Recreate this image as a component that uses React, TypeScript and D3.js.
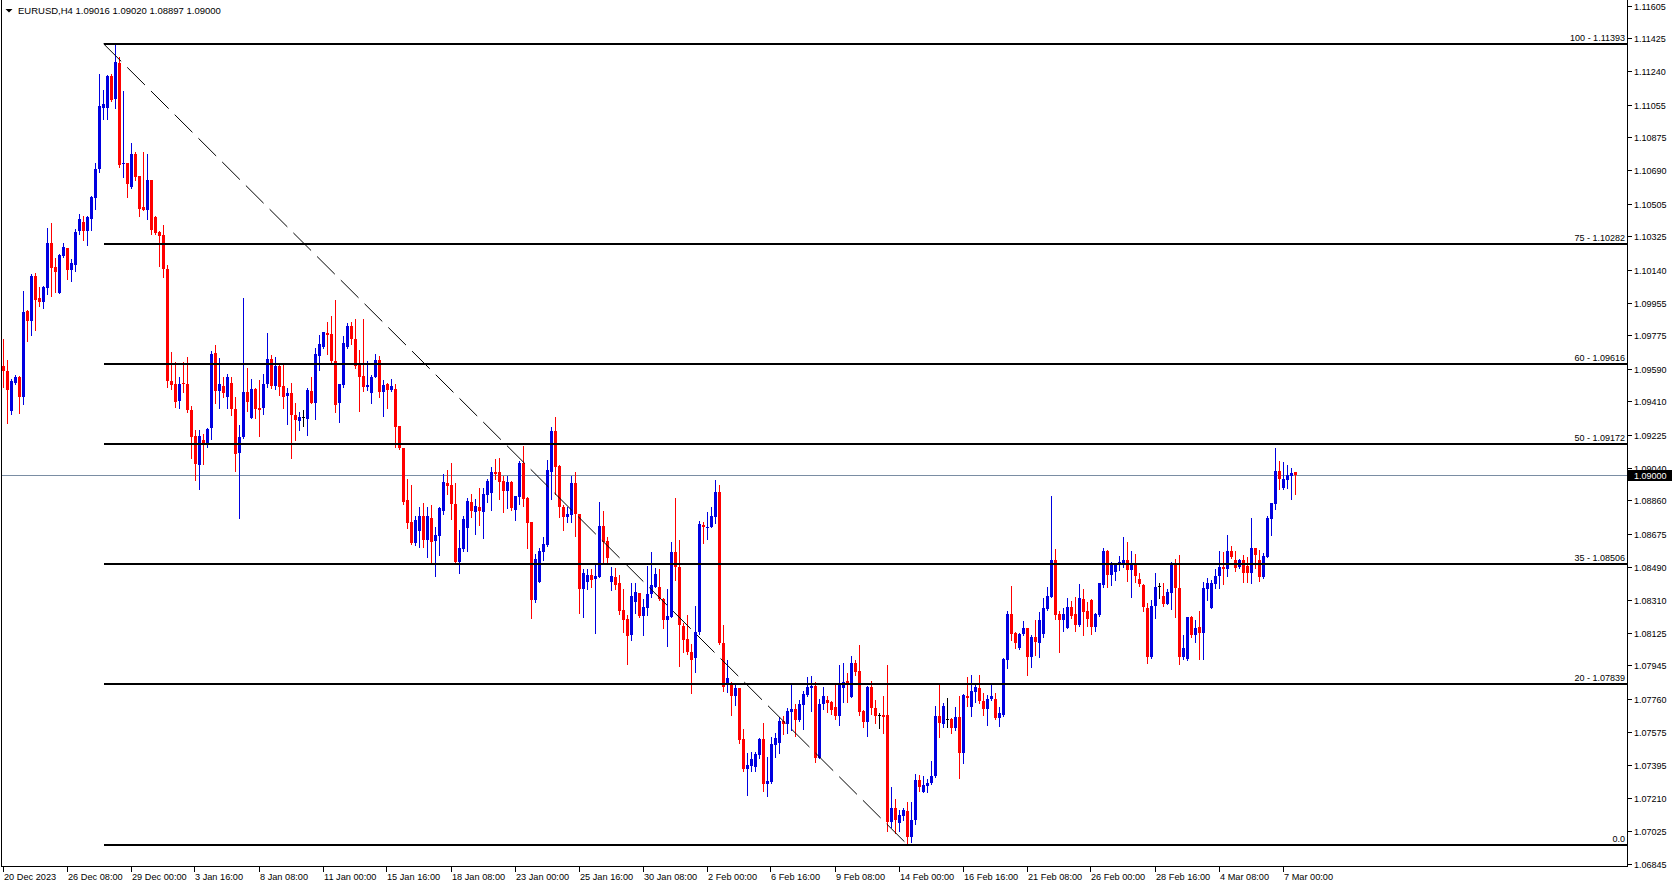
import React from 'react';
import * as d3 from 'd3';

// ---- Data (EURUSD H4, bars) ----
const opens = [
1.09604,1.09576,1.09356,1.09511,1.09544,1.09433,1.09911,1.09855,1.10103,1.09983,
1.09961,1.10040,1.10288,1.10155,1.10011,1.10216,1.10260,1.10140,1.10164,1.10355,
1.10405,1.10355,1.10423,1.10538,1.10697,1.11039,1.11037,1.11215,1.11086,1.11287,
1.10725,1.10729,1.10599,1.10784,1.10658,1.10488,1.10473,1.10636,1.10433,1.10349,
1.10331,1.10146,1.09522,1.09507,1.09411,1.09511,1.09507,1.09360,1.09215,1.09058,
1.09197,1.09165,1.09262,1.09679,1.09468,1.09497,1.09434,1.09512,1.09368,1.09124,
1.09209,1.09462,1.09318,1.09477,1.09374,1.09372,1.09505,1.09644,1.09496,1.09607,
1.09494,1.09438,1.09457,1.09336,1.09301,1.09320,1.09309,1.09466,1.09401,1.09660,
1.09712,1.09790,1.09782,1.09632,1.09398,1.09499,1.09712,1.09829,1.09753,1.09623,
1.09549,1.09490,1.09453,1.09545,1.09638,1.09459,1.09505,1.09472,1.09477,1.09272,
1.09148,1.08861,1.08740,1.08625,1.08690,1.08773,1.08640,1.08762,1.08636,1.08662,
1.08801,1.08955,1.08945,1.08840,1.08516,1.08590,1.08709,1.08851,1.08797,1.08823,
1.08797,1.08890,1.08903,1.09017,1.09017,1.08967,1.08914,1.08964,1.08807,1.08881,
1.09066,1.08875,1.08740,1.08307,1.08409,1.08575,1.08612,1.09019,1.09245,1.09053,
1.08825,1.08770,1.08779,1.08955,1.08784,1.08370,1.08409,1.08444,1.08422,1.08436,
1.08718,1.08634,1.08409,1.08437,1.08400,1.08252,1.08200,1.08113,1.08298,1.08344,
1.08219,1.08265,1.08341,1.08381,1.08378,1.08313,1.08197,1.08215,1.08574,1.08492,
1.08165,1.08091,1.08021,1.07988,1.08132,1.08723,1.08705,1.08714,1.08770,1.08907,
1.08067,1.07841,1.07848,1.07774,1.07821,1.07534,1.07370,1.07386,1.07382,1.07447,
1.07538,1.07286,1.07296,1.07503,1.07512,1.07636,1.07619,1.07688,1.07702,1.07641,
1.07724,1.07780,1.07819,1.07832,1.07432,1.07730,1.07752,1.07743,1.07712,1.07664,
1.07817,1.07858,1.07767,1.07959,1.07913,1.07693,1.07630,1.07826,1.07708,1.07667,
1.07669,1.07669,1.07077,1.07153,1.07072,1.07109,1.07137,1.06994,1.07087,1.07309,
1.07244,1.07277,1.07290,1.07331,1.07665,1.07620,1.07646,1.07647,1.07596,1.07660,
1.07461,1.07775,1.07716,1.07799,1.07819,1.07747,1.07701,1.07757,1.07758,1.07655,
1.07670,1.07975,1.08230,1.08123,1.08039,1.08117,1.08150,1.07993,1.08100,1.08071,
1.08119,1.08258,1.08326,1.08529,1.08230,1.08197,1.08150,1.08267,1.08230,1.08169,
1.08313,1.08245,1.08308,1.08160,1.08224,1.08391,1.08579,1.08446,1.08465,1.08502,
1.08511,1.08529,1.08474,1.08502,1.08424,1.08391,1.08265,1.07993,1.08274,1.08387,
1.08330,1.08285,1.08348,1.08502,1.08372,1.07993,1.07978,1.08211,1.08113,1.08160,
1.08123,1.08369,1.08265,1.08394,1.08441,1.08492,1.08480,1.08579,1.08529,1.08492,
1.08529,1.08498,1.08459,1.08598,1.08529,1.08433,1.08548,1.08757,1.08842,1.09023,
1.08931,1.08973,1.08995,1.09016
];
const highs = [
1.09754,1.09637,1.09535,1.09554,1.09548,1.10022,1.09914,1.10118,1.10122,1.10044,
1.10048,1.10373,1.10399,1.10207,1.10225,1.10288,1.10262,1.10201,1.10368,1.10447,
1.10436,1.10436,1.10547,1.10734,1.11224,1.11136,1.11219,1.11224,1.11393,1.11317,
1.11130,1.10729,1.10840,1.10793,1.10658,1.10793,1.10780,1.10636,1.10436,1.10353,
1.10386,1.10164,1.09683,1.09628,1.09544,1.09628,1.09656,1.09382,1.09252,1.09252,
1.09226,1.09262,1.09690,1.09721,1.09651,1.09545,1.09560,1.09542,1.09434,1.09277,
1.09984,1.09595,1.09531,1.09481,1.09527,1.09560,1.09790,1.09666,1.09657,1.09623,
1.09620,1.09483,1.09512,1.09398,1.09351,1.09361,1.09483,1.09545,1.09703,1.09777,
1.09795,1.09847,1.09882,1.09971,1.09508,1.09771,1.09845,1.09849,1.09864,1.09694,
1.09866,1.09632,1.09555,1.09671,1.09660,1.09527,1.09512,1.09534,1.09503,1.09272,
1.09152,1.08976,1.08945,1.08773,1.08823,1.08844,1.08821,1.08834,1.08710,1.08825,
1.09006,1.09029,1.09069,1.08958,1.08696,1.08773,1.08871,1.08895,1.08866,1.08929,
1.08930,1.08977,1.09047,1.09088,1.09093,1.08995,1.08995,1.08966,1.08884,1.09080,
1.09164,1.08881,1.08740,1.08562,1.08596,1.08655,1.09084,1.09265,1.09324,1.09056,
1.08834,1.08821,1.08995,1.09017,1.08784,1.08479,1.08477,1.08477,1.08501,1.08849,
1.08801,1.08655,1.08492,1.08483,1.08446,1.08367,1.08224,1.08400,1.08404,1.08348,
1.08311,1.08496,1.08576,1.08483,1.08481,1.08317,1.08368,1.08631,1.08875,1.08640,
1.08178,1.08222,1.08062,1.08274,1.08746,1.08742,1.08797,1.08825,1.08973,1.08945,
1.08169,1.07974,1.07854,1.07845,1.07821,1.07590,1.07460,1.07466,1.07466,1.07543,
1.07623,1.07438,1.07549,1.07567,1.07660,1.07664,1.07706,1.07835,1.07730,1.07752,
1.07802,1.07882,1.07885,1.07850,1.07761,1.07826,1.07774,1.07747,1.07845,1.07946,
1.07956,1.07904,1.07998,1.07974,1.08057,1.07697,1.07830,1.07858,1.07752,1.07678,
1.07774,1.07946,1.07272,1.07203,1.07142,1.07151,1.07185,1.07188,1.07342,1.07336,
1.07331,1.07312,1.07414,1.07721,1.07848,1.07734,1.07766,1.07651,1.07716,1.07777,
1.07786,1.07878,1.07892,1.07836,1.07892,1.07790,1.07781,1.07836,1.07790,1.07716,
1.07984,1.08247,1.08385,1.08130,1.08126,1.08191,1.08150,1.08113,1.08197,1.08239,
1.08317,1.08381,1.08884,1.08590,1.08247,1.08261,1.08317,1.08300,1.08326,1.08396,
1.08369,1.08295,1.08313,1.08237,1.08404,1.08594,1.08585,1.08520,1.08515,1.08552,
1.08659,1.08631,1.08579,1.08563,1.08456,1.08394,1.08289,1.08308,1.08456,1.08400,
1.08404,1.08370,1.08518,1.08533,1.08557,1.08113,1.08215,1.08219,1.08197,1.08247,
1.08409,1.08431,1.08419,1.08480,1.08579,1.08576,1.08668,1.08607,1.08581,1.08533,
1.08557,1.08548,1.08764,1.08598,1.08585,1.08566,1.08774,1.08847,1.09153,1.09079,
1.09075,1.09056,1.09042,1.09020
];
const lows = [
1.09489,1.09289,1.09341,1.09507,1.09345,1.09396,1.09744,1.09779,1.09807,1.09937,
1.09929,1.10007,1.09994,1.10016,1.10011,1.10211,1.10087,1.10077,1.10133,1.10340,
1.10303,1.10275,1.10359,1.10479,1.10682,1.10978,1.10973,1.11075,1.11034,1.10710,
1.10654,1.10544,1.10590,1.10636,1.10436,1.10470,1.10423,1.10340,1.10336,1.10159,
1.10100,1.09489,1.09480,1.09378,1.09374,1.09461,1.09350,1.09097,1.08971,1.08925,
1.09064,1.09156,1.09203,1.09400,1.09373,1.09431,1.09372,1.09335,1.09024,1.08763,
1.09205,1.09355,1.09318,1.09318,1.09218,1.09338,1.09490,1.09484,1.09477,1.09444,
1.09373,1.09283,1.09096,1.09194,1.09250,1.09274,1.09224,1.09398,1.09312,1.09583,
1.09708,1.09671,1.09625,1.09353,1.09294,1.09490,1.09708,1.09727,1.09597,1.09355,
1.09466,1.09472,1.09401,1.09542,1.09431,1.09327,1.09370,1.09466,1.09157,1.09144,
1.08839,1.08706,1.08616,1.08612,1.08603,1.08603,1.08548,1.08507,1.08442,1.08557,
1.08784,1.08895,1.08757,1.08507,1.08459,1.08581,1.08581,1.08766,1.08673,1.08723,
1.08653,1.08853,1.08807,1.08977,1.08868,1.08797,1.08816,1.08807,1.08751,1.08840,
1.08831,1.08596,1.08209,1.08298,1.08409,1.08529,1.08609,1.08868,1.08895,1.08770,
1.08696,1.08740,1.08738,1.08662,1.08237,1.08213,1.08370,1.08377,1.08126,1.08436,
1.08514,1.08510,1.08362,1.08367,1.08230,1.08132,1.07952,1.08086,1.08233,1.08215,
1.08115,1.08224,1.08326,1.08378,1.08307,1.08154,1.08054,1.08211,1.08418,1.07943,
1.08017,1.08008,1.07793,1.07910,1.08117,1.08625,1.08644,1.08711,1.08733,1.08062,
1.07803,1.07798,1.07669,1.07724,1.07516,1.07358,1.07225,1.07360,1.07358,1.07429,
1.07249,1.07222,1.07290,1.07434,1.07460,1.07564,1.07567,1.07586,1.07553,1.07638,
1.07591,1.07774,1.07693,1.07410,1.07429,1.07702,1.07688,1.07675,1.07650,1.07614,
1.07743,1.07743,1.07767,1.07891,1.07669,1.07601,1.07553,1.07673,1.07627,1.07599,
1.07567,1.07027,1.07050,1.07013,1.07026,1.07087,1.06954,1.06963,1.07064,1.07249,
1.07240,1.07244,1.07286,1.07327,1.07549,1.07601,1.07605,1.07572,1.07586,1.07318,
1.07405,1.07721,1.07664,1.07740,1.07738,1.07670,1.07614,1.07753,1.07646,1.07609,
1.07664,1.07932,1.08086,1.08039,1.08034,1.08113,1.07892,1.07938,1.08002,1.07993,
1.08104,1.08252,1.08326,1.08202,1.08021,1.08137,1.08150,1.08206,1.08136,1.08163,
1.08113,1.08165,1.08119,1.08137,1.08221,1.08381,1.08381,1.08391,1.08418,1.08474,
1.08492,1.08413,1.08326,1.08406,1.08387,1.08248,1.07960,1.07988,1.08210,1.08321,
1.08276,1.08284,1.08256,1.08215,1.07953,1.07978,1.07975,1.08104,1.08076,1.07978,
1.07978,1.08308,1.08261,1.08376,1.08376,1.08396,1.08443,1.08539,1.08470,1.08483,
1.08409,1.08409,1.08404,1.08487,1.08415,1.08431,1.08544,1.08668,1.08811,1.08923,
1.08921,1.08927,1.08868,1.08897
];
const closes = [
1.09576,1.09474,1.09520,1.09544,1.09433,1.09905,1.09855,1.10105,1.09974,1.09961,
1.10044,1.10288,1.10151,1.10127,1.10220,1.10266,1.10137,1.10177,1.10349,1.10421,
1.10355,1.10433,1.10544,1.10697,1.11047,1.11058,1.11215,1.11080,1.11293,1.10719,
1.10732,1.10614,1.10784,1.10654,1.10479,1.10473,1.10636,1.10362,1.10344,1.10325,
1.10146,1.09522,1.09502,1.09406,1.09507,1.09504,1.09360,1.09212,1.09060,1.09215,
1.09171,1.09258,1.09671,1.09468,1.09505,1.09453,1.09542,1.09368,1.09120,1.09212,
1.09462,1.09407,1.09477,1.09366,1.09362,1.09505,1.09644,1.09496,1.09607,1.09490,
1.09434,1.09453,1.09333,1.09305,1.09324,1.09320,1.09472,1.09401,1.09671,1.09727,
1.09792,1.09777,1.09631,1.09388,1.09505,1.09734,1.09829,1.09753,1.09605,1.09545,
1.09490,1.09499,1.09542,1.09638,1.09462,1.09499,1.09472,1.09497,1.09268,1.09148,
1.08852,1.08735,1.08625,1.08751,1.08773,1.08640,1.08773,1.08631,1.08668,1.08819,
1.08964,1.08940,1.08840,1.08516,1.08594,1.08757,1.08856,1.08801,1.08829,1.08803,
1.08895,1.08967,1.09017,1.09006,1.08964,1.08914,1.08964,1.08816,1.08884,1.09069,
1.08868,1.08736,1.08307,1.08535,1.08579,1.08618,1.09029,1.09245,1.09047,1.08821,
1.08770,1.08784,1.08955,1.08782,1.08370,1.08455,1.08444,1.08418,1.08440,1.08718,
1.08631,1.08542,1.08440,1.08393,1.08248,1.08197,1.08110,1.08330,1.08352,1.08219,
1.08270,1.08339,1.08389,1.08452,1.08311,1.08197,1.08219,1.08574,1.08492,1.08171,
1.08086,1.08021,1.07975,1.08132,1.08729,1.08714,1.08714,1.08773,1.08907,1.08067,
1.07825,1.07876,1.07774,1.07821,1.07530,1.07370,1.07392,1.07423,1.07451,1.07538,
1.07286,1.07303,1.07508,1.07543,1.07638,1.07619,1.07691,1.07702,1.07641,1.07730,
1.07786,1.07823,1.07832,1.07432,1.07730,1.07776,1.07737,1.07700,1.07664,1.07835,
1.07854,1.07845,1.07959,1.07908,1.07688,1.07630,1.07826,1.07706,1.07665,1.07667,
1.07660,1.07077,1.07153,1.07087,1.07114,1.07142,1.06994,1.07087,1.07309,1.07272,
1.07281,1.07294,1.07331,1.07665,1.07623,1.07720,1.07646,1.07599,1.07657,1.07457,
1.07781,1.07762,1.07805,1.07823,1.07747,1.07701,1.07758,1.07777,1.07655,1.07679,
1.07980,1.08230,1.08117,1.08067,1.08119,1.08150,1.07993,1.08104,1.08073,1.08197,
1.08261,1.08332,1.08529,1.08224,1.08197,1.08230,1.08267,1.08219,1.08169,1.08317,
1.08243,1.08202,1.08160,1.08230,1.08400,1.08579,1.08446,1.08511,1.08507,1.08520,
1.08529,1.08474,1.08502,1.08443,1.08394,1.08267,1.07993,1.08274,1.08378,1.08387,
1.08285,1.08350,1.08502,1.08376,1.07993,1.08043,1.08211,1.08113,1.08150,1.08126,
1.08372,1.08404,1.08404,1.08441,1.08492,1.08480,1.08579,1.08544,1.08487,1.08529,
1.08459,1.08459,1.08598,1.08557,1.08433,1.08552,1.08764,1.08846,1.09023,1.08979,
1.08979,1.09001,1.09014,1.09000
];

const timeLabels = [
  '20 Dec 2023', '26 Dec 08:00', '29 Dec 00:00', '3 Jan 16:00', '8 Jan 08:00',
  '11 Jan 00:00', '15 Jan 16:00', '18 Jan 08:00', '23 Jan 00:00', '25 Jan 16:00',
  '30 Jan 08:00', '2 Feb 00:00', '6 Feb 16:00', '9 Feb 08:00', '14 Feb 00:00',
  '16 Feb 16:00', '21 Feb 08:00', '26 Feb 00:00', '28 Feb 16:00', '4 Mar 08:00',
  '7 Mar 00:00',
];
const barsPerTimeLabel = 16;

const priceTicks = [
  1.11605, 1.11425, 1.11240, 1.11055, 1.10875, 1.10690, 1.10505, 1.10325, 1.10140,
  1.09955, 1.09775, 1.09590, 1.09410, 1.09225, 1.09040, 1.08860, 1.08675, 1.08490,
  1.08310, 1.08125, 1.07945, 1.07760, 1.07575, 1.07395, 1.07210, 1.07025, 1.06845,
];

const fibLevelNames = ['0.0', '20', '35', '50', '60', '75', '100'];
const fibLevelPrices = [1.0695, 1.07839, 1.08506, 1.09172, 1.09616, 1.10282, 1.11393];
const fibAnchorBars = [25, 226];
const symbolName = 'EURUSD,H4';

export default function App() {
  const W = 1673, H = 888;
  const plotLeft = 2, plotRight = 1627, plotTop = 0, plotBottom = 866;
  const n = closes.length;

  const x = d3.scaleLinear().domain([0, n - 1]).range([3.5, 3.5 + 4 * (n - 1)]);
  const y = d3.scaleLinear().domain([1.06832, 1.1163]).range([plotBottom, 1]);

  const fmt = d3.format('.5f');
  const FONT = '"Liberation Sans", Arial, sans-serif';
  const BULL = '#0000e0', BEAR = '#ff0000', DOJI = '#000000';

  const last = n - 1;
  const header = `${symbolName}  ${fmt(opens[last])} ${fmt(highs[last])} ${fmt(lows[last])} ${fmt(closes[last])}`;

  const fibHigh = fibLevelPrices[fibLevelPrices.length - 1];
  const fibLow = fibLevelPrices[0];
  const fx0 = x(fibAnchorBars[0]);
  const fx1 = x(fibAnchorBars[1]);

  const curY = Math.round(y(closes[last])) + 0.5;

  return (
    <div style={{ position: 'absolute', left: 0, top: 0, width: W, height: H, overflow: 'hidden', background: '#fff' }}>
      <svg width={W} height={H} style={{ display: 'block', fontFamily: FONT }}>
        <rect x={0} y={0} width={W} height={H} fill="#ffffff" />

        {/* current price line */}
        <line x1={plotLeft} x2={plotRight} y1={curY} y2={curY} stroke="#7a8da3" strokeWidth={1} shapeRendering="crispEdges" />

        {/* candles */}
        <g shapeRendering="crispEdges">
          {closes.map((c, i) => {
            const o = opens[i], h = highs[i], l = lows[i];
            const col = c > o ? BULL : c < o ? BEAR : DOJI;
            const xc = x(i);
            const yTop = Math.round(y(Math.max(o, c)));
            const yBot = Math.round(y(Math.min(o, c)));
            const yH = Math.round(y(h));
            const yL = Math.round(y(l));
            return (
              <g key={i}>
                <line x1={xc} x2={xc} y1={yH} y2={yL + 1} stroke={col} strokeWidth={1} />
                <rect x={xc - 1.5} y={yTop} width={3} height={Math.max(1, yBot - yTop)} fill={col} />
              </g>
            );
          })}
        </g>

        {/* fibonacci trend (dashed) */}
        <line x1={fx0} y1={y(fibHigh)} x2={fx1} y2={y(fibLow)} stroke="#000" strokeWidth={1} strokeDasharray="25 8.5" />

        {/* fibonacci levels */}
        {fibLevelPrices.map((p, k) => {
          const yy = Math.round(y(p));
          const label = fibLevelNames[k] === '0.0' ? '0.0' : `${fibLevelNames[k]} - ${fmt(p)}`;
          return (
            <g key={k}>
              <line x1={fx0} x2={plotRight} y1={yy} y2={yy} stroke="#000" strokeWidth={2} shapeRendering="crispEdges" />
              <text x={plotRight - 2} y={yy - 3} fontSize={9} textAnchor="end" fill="#000">{label}</text>
            </g>
          );
        })}

        {/* frame */}
        <line x1={1.5} x2={1.5} y1={plotTop} y2={plotBottom} stroke="#000" strokeWidth={1} />
        <line x1={plotRight + 0.5} x2={plotRight + 0.5} y1={plotTop} y2={plotBottom + 0.5} stroke="#000" strokeWidth={1} />
        <line x1={1} x2={plotRight + 1} y1={plotBottom + 0.5} y2={plotBottom + 0.5} stroke="#000" strokeWidth={1} />

        {/* price axis */}
        {priceTicks.map((p, k) => {
          const yy = Math.round(y(p)) + 0.5;
          return (
            <g key={k}>
              <line x1={plotRight + 1} x2={plotRight + 5} y1={yy} y2={yy} stroke="#000" strokeWidth={1} />
              <text x={plotRight + 7} y={yy + 3.5} fontSize={9} fill="#000">{fmt(p)}</text>
            </g>
          );
        })}

        {/* current price tag */}
        <rect x={plotRight + 1} y={curY - 5.5} width={44} height={11} fill="#000" />
        <text x={plotRight + 7} y={curY + 3.5} fontSize={9} fill="#fff">{fmt(closes[last])}</text>

        {/* time axis */}
        {timeLabels.map((t, k) => {
          const xx = Math.round(x(k * barsPerTimeLabel)) - 0.5;
          return (
            <g key={k}>
              <line x1={xx} x2={xx} y1={plotBottom + 1} y2={plotBottom + 6} stroke="#000" strokeWidth={1} />
              <text x={xx + 0.5} y={plotBottom + 14} fontSize={9.2} fill="#000">{t}</text>
            </g>
          );
        })}

        {/* header */}
        <polygon points="5.5,9 12.5,9 9,12.5" fill="#000" />
        <text x={18} y={14} fontSize={9.5} fill="#000">{header}</text>
      </svg>
    </div>
  );
}
